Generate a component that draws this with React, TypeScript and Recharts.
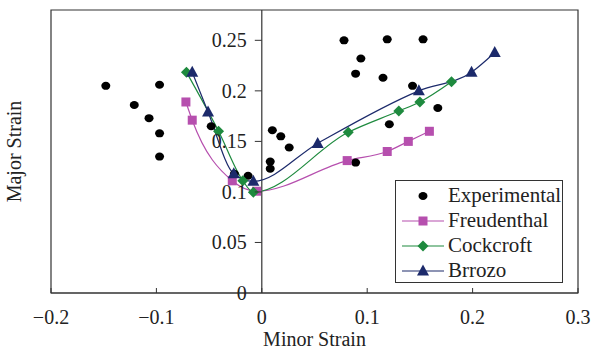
import React from "react";
import {
    ComposedChart,
    Line,
    Scatter,
    XAxis,
    YAxis,
    Legend,
    ReferenceLine,
    ReferenceArea,
} from "recharts";

// experimental points
const expX = [-0.148, -0.121, -0.097, -0.107, -0.097, -0.097, -0.048, -0.013, -0.026,
    0.010, 0.018, 0.026, 0.008, 0.008, 0.078, 0.119, 0.153, 0.094, 0.089, 0.115,
    0.143, 0.167, 0.121, 0.089];
const expY = [0.205, 0.186, 0.206, 0.173, 0.158, 0.135, 0.165, 0.116, 0.118,
    0.161, 0.155, 0.144, 0.130, 0.123, 0.250, 0.251, 0.251, 0.232, 0.217, 0.213,
    0.205, 0.183, 0.167, 0.129];

const freuX = [-0.072, -0.066, -0.028, -0.005, 0.081, 0.119, 0.139, 0.159];
const freuY = [0.189, 0.171, 0.111, 0.1007, 0.131, 0.140, 0.150, 0.160];

const cockX = [-0.0715, -0.041, -0.018, -0.008, 0.082, 0.130, 0.150, 0.180];
const cockY = [0.2185, 0.160, 0.111, 0.0997, 0.159, 0.180, 0.189, 0.209];

const brrX = [-0.066, -0.051, -0.0266, -0.008, 0.053, 0.149, 0.199, 0.221];
const brrY = [0.2185, 0.179, 0.118, 0.1105, 0.148, 0.200, 0.2185, 0.238];

const xTicks = [-0.2, -0.1, 0, 0.1, 0.2, 0.3];
const yTicks = [0, 0.05, 0.1, 0.15, 0.2, 0.25];

const zip = (xs: number[], ys: number[]) => xs.map((x, i) => ({ x, y: ys[i] }));
const expData = zip(expX, expY);
const freuData = zip(freuX, freuY);
const cockData = zip(cockX, cockY);
const brrData = zip(brrX, brrY);

const W = 592;
const H = 352;
const Y_AXIS_W = 1;
const M = { top: 10, right: 14, left: 50, bottom: 0 };
const X_AXIS_H = 59;
const PLOT_LEFT = M.left + Y_AXIS_W;
const PLOT_W = W - PLOT_LEFT - M.right;
const PLOT_H = H - M.top - X_AXIS_H;
const AXIS_Y = M.top + PLOT_H;
const X_MIN = -0.2;
const X_MAX = 0.3;
const X0 = PLOT_LEFT + (PLOT_W * (0 - X_MIN)) / (X_MAX - X_MIN);

const FONT = "'Liberation Serif', 'Times New Roman', serif";
const AXIS = "#333";
const PURPLE = "#b64fae";
const GREEN = "#1e8a3e";
const NAVY = "#1c2a6b";

const fmt = (v: number) => (v < 0 ? "\u2212" + String(-v) : String(v));

const XTick = (props: any) => {
    const { x, payload } = props;
    return (
        <g>
            <line x1={x} x2={x} y1={AXIS_Y} y2={AXIS_Y - 5} stroke={AXIS} />
            <text x={x} y={AXIS_Y + 31} textAnchor="middle" fontSize={20} fontFamily={FONT} fill="#222">
                {fmt(payload.value)}
            </text>
        </g>
    );
};

const YTick = (props: any) => {
    const { y, payload } = props;
    return (
        <g>
            {payload.value !== 0 && <line x1={X0 - 7} x2={X0} y1={y} y2={y} stroke={AXIS} />}
            <text x={X0 - 15} y={y} dy="0.35em" textAnchor="end" fontSize={20} fontFamily={FONT} fill="#222">
                {fmt(payload.value)}
            </text>
        </g>
    );
};

const Square = ({ cx, cy, color }: any) => (
    <rect x={cx - 4.5} y={cy - 4.5} width={9} height={9} fill={color} />
);
const Diamond = ({ cx, cy, color }: any) => (
    <polygon points={`${cx},${cy - 5.5} ${cx + 5.5},${cy} ${cx},${cy + 5.5} ${cx - 5.5},${cy}`} fill={color} />
);
const Triangle = ({ cx, cy, color }: any) => (
    <polygon points={`${cx},${cy - 6.5} ${cx + 6},${cy + 4.5} ${cx - 6},${cy + 4.5}`} fill={color} />
);
const Dot = ({ cx, cy }: any) => <ellipse cx={cx} cy={cy} rx={4.5} ry={4} fill="#000" />;

const legendItems = [
    { name: "Experimental", color: "#000", Marker: Dot, line: false },
    { name: "Freudenthal", color: PURPLE, Marker: Square, line: true },
    { name: "Cockcroft", color: GREEN, Marker: Diamond, line: true },
    { name: "Brrozo", color: NAVY, Marker: Triangle, line: true },
];

const LegendBox = () => (
    <div
        style={{
            border: `1px solid ${AXIS}`,
            background: "#fff",
            width: 168,
            height: 103,
            paddingTop: 2,
            boxSizing: "border-box",
            fontFamily: FONT,
            fontSize: 21,
            color: "#222",
            textAlign: "left",
        }}
    >
        {legendItems.map(({ name, color, Marker, line }) => (
            <div key={name} style={{ display: "flex", alignItems: "center", height: 25 }}>
                <svg width={52} height={20} style={{ flex: "none" }}>
                    {line && <line x1={6} x2={48} y1={10} y2={10} stroke={color} strokeWidth={1.2} />}
                    <Marker cx={27} cy={10} color={color} />
                </svg>
                <span style={{ lineHeight: "25px", fontFamily: FONT }}>{name}</span>
            </div>
        ))}
    </div>
);

const App: React.FC = () => (
    <div style={{ position: "absolute", left: 0, top: 0, fontFamily: FONT }}>
        <ComposedChart width={W} height={H} margin={M}>
            <XAxis
                type="number"
                dataKey="x"
                domain={[X_MIN, X_MAX]}
                ticks={xTicks}
                height={X_AXIS_H}
                stroke={AXIS}
                tickLine={false}
                tick={<XTick />}
                interval={0}
                label={{
                    content: () => (
                        <text x={PLOT_LEFT + PLOT_W / 2} y={346} textAnchor="middle" fontSize={20} fontFamily={FONT} fill="#222">
                            Minor Strain
                        </text>
                    ),
                }}
            />
            <YAxis
                type="number"
                dataKey="y"
                domain={[0, 0.28]}
                ticks={yTicks}
                width={Y_AXIS_W}
                axisLine={false}
                tickLine={false}
                tick={<YTick />}
                interval={0}
                label={{
                    content: () => (
                        <text
                            x={0}
                            y={0}
                            transform={`translate(21, ${M.top + PLOT_H / 2}) rotate(-90)`}
                            textAnchor="middle"
                            fontSize={20}
                            fontFamily={FONT}
                            fill="#222"
                        >
                            Major Strain
                        </text>
                    ),
                }}
            />
            <ReferenceArea x1={X_MIN} x2={X_MAX} y1={0} y2={0.28} fill="none" stroke={AXIS} strokeWidth={1.2} />
            <ReferenceLine x={0} stroke={AXIS} strokeWidth={1.2} />
            <Scatter name="Experimental" data={expData} shape={<Dot />} isAnimationActive={false} />
            <Line
                name="Freudenthal"
                data={freuData}
                dataKey="y"
                type="monotone"
                stroke={PURPLE}
                strokeWidth={1.2}
                dot={(p: any) => <Square key={p.index} cx={p.cx} cy={p.cy} color={PURPLE} />}
                isAnimationActive={false}
            />
            <Line
                name="Cockcroft"
                data={cockData}
                dataKey="y"
                type="monotone"
                stroke={GREEN}
                strokeWidth={1.2}
                dot={(p: any) => <Diamond key={p.index} cx={p.cx} cy={p.cy} color={GREEN} />}
                isAnimationActive={false}
            />
            <Line
                name="Brrozo"
                data={brrData}
                dataKey="y"
                type="monotone"
                stroke={NAVY}
                strokeWidth={1.2}
                dot={(p: any) => <Triangle key={p.index} cx={p.cx} cy={p.cy} color={NAVY} />}
                isAnimationActive={false}
            />
            <Legend
                layout="vertical"
                align="center"
                verticalAlign="middle"
                content={<LegendBox />}
                wrapperStyle={{ left: 395, top: 180, width: 168, margin: 0 }}
            />
        </ComposedChart>
    </div>
);

export default App;
